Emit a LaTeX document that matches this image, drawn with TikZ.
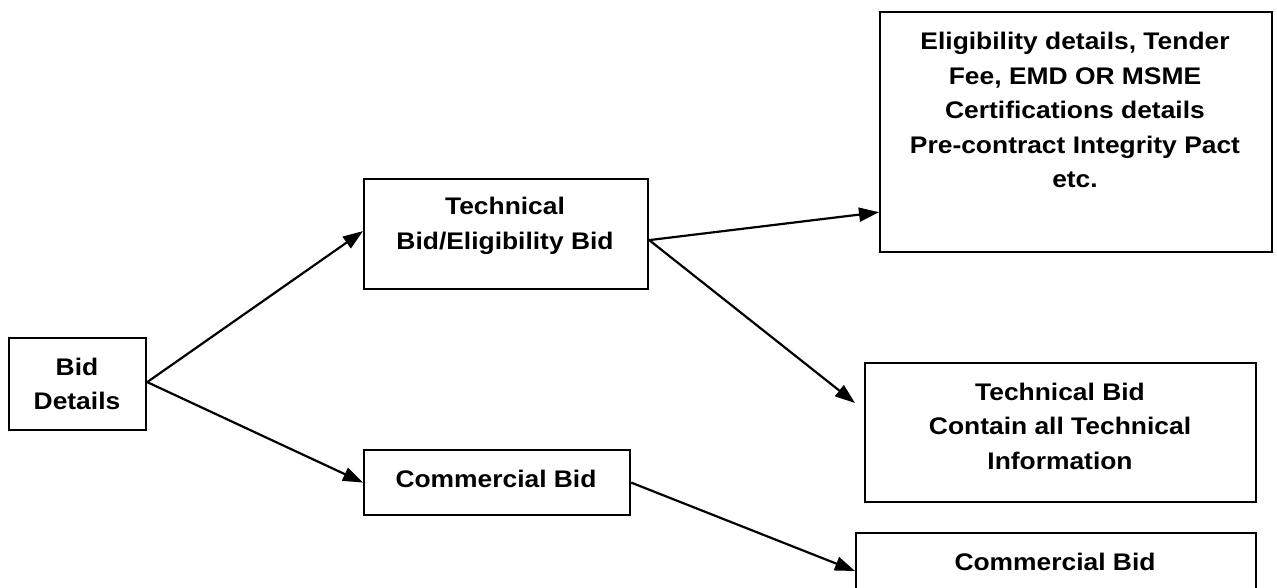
\documentclass[tikz,border=0pt]{standalone}
\usepackage{fontspec}
\setmainfont[FakeStretch=1.1]{Liberation Sans}
\usetikzlibrary{arrows.meta,calc}
\begin{document}
\begin{tikzpicture}[x=1pt,y=-1pt,
  box/.style={draw=black, line width=2.2pt, fill=none, inner sep=0pt, anchor=north west},
  txt/.style={align=center, inner sep=0pt, font=\fontsize{24}{34.5}\selectfont\bfseries},
  conn/.style={line width=2.2pt, -{Triangle[length=20pt,width=14pt]}}]
\useasboundingbox (0,0) rectangle (1277,587);
% boxes
\node[box, minimum width=137pt, minimum height=92pt] (bid) at (8,337) {};
\node[box, minimum width=284pt, minimum height=110pt] (tech) at (363,178) {};
\node[box, minimum width=266pt, minimum height=65pt] (comm) at (363,449) {};
\node[box, minimum width=392pt, minimum height=240pt] (elig) at (879,11) {};
\node[box, minimum width=391pt, minimum height=139pt] (tinfo) at (864,362) {};
\node[box, minimum width=400pt, minimum height=90pt] (cbid) at (855,532) {};
% texts
\node[txt] (bidt) at (77,384) {Bid\\Details};
\node[txt] (techt) at (505,226) {Technical\\Bid/Eligibility Bid};
\node[txt] (commt) at (496,479) {Commercial Bid};
\node[txt] (eligt) at (1075,110) {Eligibility details, Tender\\Fee, EMD OR MSME\\Certifications details\\Pre-contract Integrity Pact\\etc.};
\node[txt] (tinfot) at (1060,426) {Technical Bid\\Contain all Technical\\Information};
\node[txt] (cbidt) at (1055,562) {Commercial Bid};
% connector end points
\coordinate (bidout) at ($(bid.east)+(0,-2)$);
\coordinate (techout) at ($(tech.east)+(0,6)$);
\coordinate (eligin) at ($(elig.south west)+(0,-41)$);
\coordinate (tinfoin) at ($(tinfo.north west)+(-9,41)$);
% connectors
\draw[conn] (bidout) -- ($(tech.west)+(0,-3)$);
\draw[conn] (bidout) -- (comm.west);
\draw[conn] (techout) -- (eligin);
\draw[conn] (techout) -- (tinfoin);
\draw[conn] (comm.east) -- ($(cbid.north west)+(0,39)$);
\end{tikzpicture}
\end{document}
